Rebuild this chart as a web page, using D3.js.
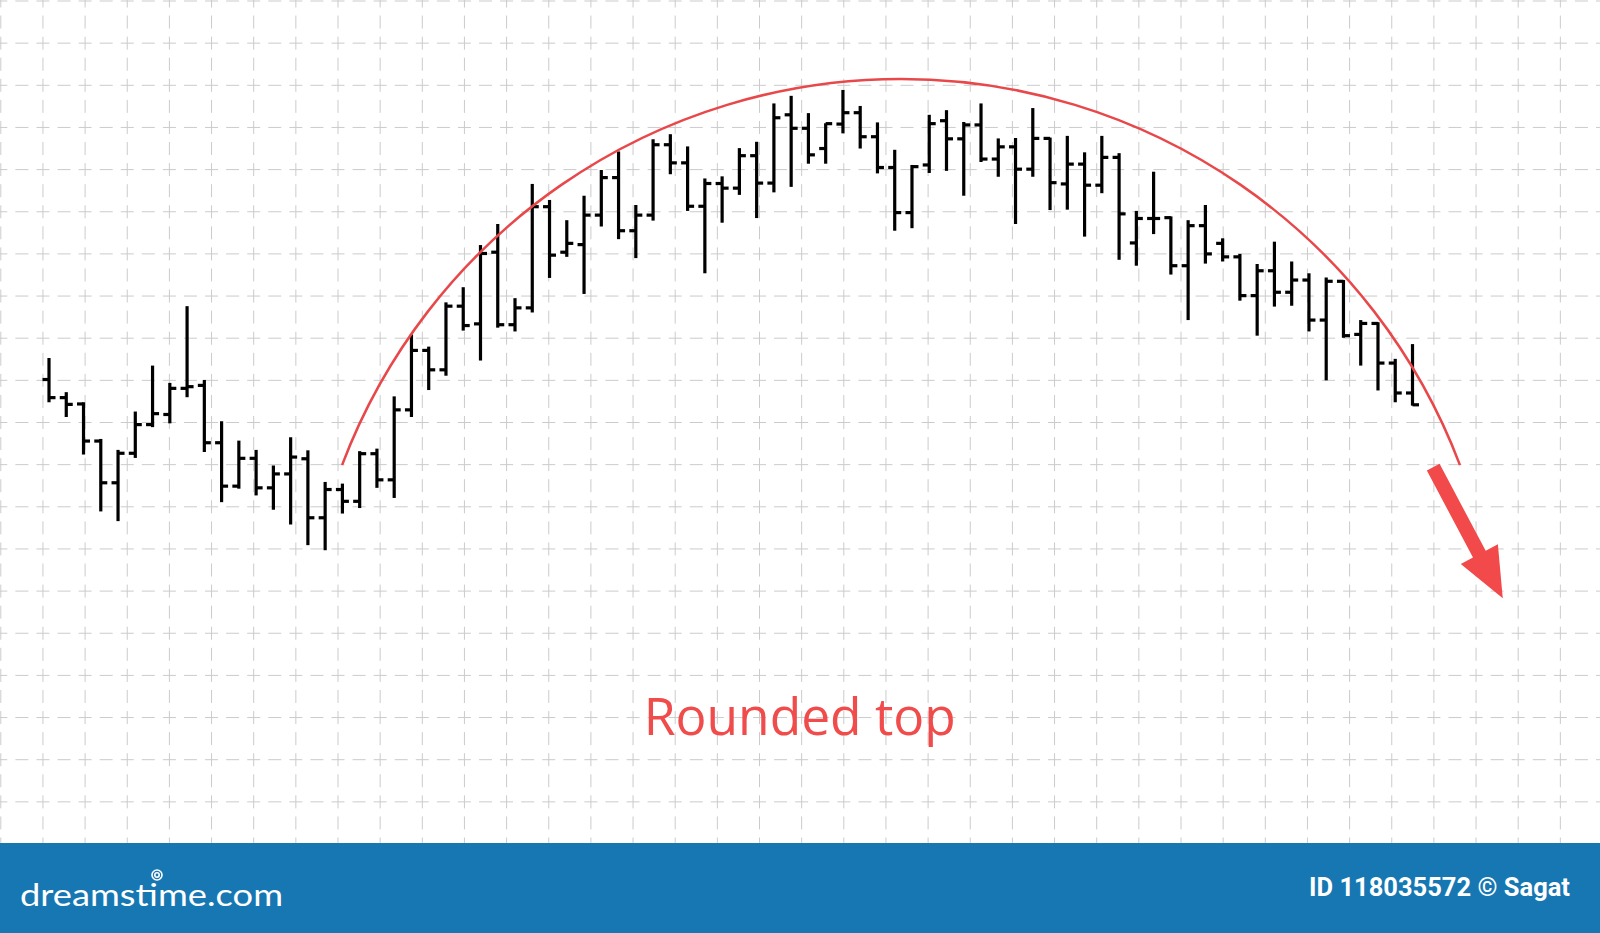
<!DOCTYPE html>
<html><head><meta charset="utf-8">
<script src="https://cdn.jsdelivr.net/npm/d3@7"></script>
<style>html,body{margin:0;padding:0;background:#fff;overflow:hidden}</style>
</head><body><svg id="c" width="1600" height="933"></svg>
<script>
// ---- data (price units: one grid cell = 10) ----
const opens = [110.2,105.9,104.4,95.6,85.7,92.7,99.5,101.9,108.1,108.8,
  95.2,84.9,91.5,84.5,87.8,91.4,77.4,84.1,81.3,92.6,
  86.4,103.0,117.1,112.5,127.6,123.4,140.4,123.2,127.2,151.2,
  140.4,142.2,149.2,158.1,145.5,149.2,165.9,161.6,151.3,156.7,
  155.6,163.3,156.8,173.0,169.8,165.0,170.8,173.5,167.8,160.5,
  149.8,161.1,171.6,167.3,170.6,162.5,165.4,160.1,167.4,156.6,
  161.3,156.3,162.9,142.6,148.4,148.6,137.2,146.7,142.5,139.3,
  130.1,136.0,130.9,133.8,124.3,133.5,120.9,123.5,114.1,107.0];
const highs = [115.3,107.2,104.8,96.1,93.5,102.6,113.5,109.4,127.6,110.1,
  100.3,95.7,93.5,89.8,96.5,93.4,85.9,85.5,93.2,93.8,
  106.2,120.9,118.0,128.5,132.1,142.1,147.1,129.5,156.6,152.8,
  148.0,153.8,159.9,164.3,151.6,167.2,168.4,165.5,157.9,158.4,
  165.1,166.6,175.7,177.5,173.4,171.0,178.9,175.1,171.2,164.7,
  161.1,173.0,174.1,171.3,175.7,167.4,167.5,174.6,167.6,168.0,
  164.1,168.0,163.9,150.2,159.5,148.9,148.0,151.6,143.7,140.0,
  137.6,142.9,138.2,135.4,134.4,133.8,124.3,123.8,115.1,118.6];
const lows = [104.8,101.3,92.4,78.9,76.6,91.6,98.9,99.8,106.0,93.0,
  81.1,84.3,82.7,79.3,75.8,70.9,69.7,78.4,79.7,84.5,
  82.1,101.3,107.7,111.1,121.8,114.7,122.5,121.6,126.1,134.3,
  139.3,130.5,146.5,143.5,139.0,147.9,158.9,150.2,135.4,147.4,
  154.0,148.5,154.6,155.9,161.4,161.4,168.6,165.0,159.1,145.5,
  146.1,159.2,159.7,153.8,161.8,158.3,147.1,158.3,150.4,150.5,
  144.1,154.4,138.6,137.2,144.7,135.1,124.3,137.7,138.2,128.9,
  120.6,127.5,127.7,121.6,110.0,120.1,113.5,107.6,104.8,104.0];
const closes = [105.9,104.3,95.6,85.7,92.7,99.5,102.1,108.1,108.5,95.2,
  84.9,91.5,84.5,87.8,91.8,77.4,84.1,81.3,92.6,86.4,
  103.0,117.1,112.5,127.6,123.0,140.1,123.2,127.2,151.2,139.7,
  142.5,149.2,158.1,145.5,149.2,165.9,161.6,151.3,156.7,155.6,
  163.3,156.8,172.3,169.8,163.5,170.9,173.5,167.8,160.5,149.8,
  160.7,170.9,167.3,170.6,162.5,165.4,160.1,167.4,156.9,161.3,
  156.3,162.9,149.5,148.4,148.4,137.2,146.7,140.0,139.3,130.1,
  136.0,130.9,133.8,124.3,133.5,120.6,123.5,114.1,107.0,104.2];
// annotation anchors in data space: [bar index, price]
const arcStart = [16.98, 89.9], arcTop = [49.36, 181.5], arcEnd = [81.75, 89.9];
const arrowFrom = [80.2, 89.4], arrowTo = [84.23, 58.3];
const labelText = "Rounded top", labelPos = [43.5, 25.9];
const brandText = "dreamstime.com";
const creditText = "ID 118035572 \u00A9 Sagat";

// ---- layout ----
const W = 1600, H = 933, footerTop = 843;
const svg = d3.select("#c");
const x = d3.scaleLinear().domain([0, opens.length - 1]).range([49, 1412.5]);
const y = d3.scaleLinear().domain([0, 200]).range([844, 1]);
const gridStepX = 42.15, gridX0 = 0.8;

svg.append("rect").attr("width", W).attr("height", H).attr("fill", "#fff");

// grid
const grid = svg.append("g").attr("stroke", "#cbcbcb").attr("stroke-width", 1)
  .attr("stroke-dasharray", "13 8.075").attr("fill", "none");
grid.selectAll("line.h").data(d3.range(0, 201, 10)).join("line")
  .attr("class", "h").attr("x1", 0).attr("x2", W)
  .attr("y1", d => y(d)).attr("y2", d => y(d))
  .attr("stroke-dashoffset", 5.7);
grid.selectAll("line.v").data(d3.range(0, 39)).join("line")
  .attr("class", "v").attr("y1", 0).attr("y2", footerTop)
  .attr("x1", d => gridX0 + d * gridStepX).attr("x2", d => gridX0 + d * gridStepX)
  .attr("stroke-dashoffset", 5.5);

// OHLC bars
const bars = opens.map((o, i) => ({i, o, h: highs[i], l: lows[i], c: closes[i]}));
const g = svg.append("g").attr("stroke", "#000").attr("stroke-width", 3.2);
const tick = 6.5;
const bg = g.selectAll("g").data(bars).join("g");
bg.append("line").attr("x1", d => x(d.i)).attr("x2", d => x(d.i))
  .attr("y1", d => y(d.h)).attr("y2", d => y(d.l));
bg.append("line").attr("x1", d => x(d.i) - tick).attr("x2", d => x(d.i))
  .attr("y1", d => y(d.o)).attr("y2", d => y(d.o));
bg.append("line").attr("x1", d => x(d.i)).attr("x2", d => x(d.i) + tick)
  .attr("y1", d => y(d.c)).attr("y2", d => y(d.c));

// arc through three anchors
const P = p => [x(p[0]), y(p[1])];
function circ(a, b, c) {
  const d = 2 * (a[0]*(b[1]-c[1]) + b[0]*(c[1]-a[1]) + c[0]*(a[1]-b[1]));
  const A = a[0]**2 + a[1]**2, B = b[0]**2 + b[1]**2, C = c[0]**2 + c[1]**2;
  const ux = (A*(b[1]-c[1]) + B*(c[1]-a[1]) + C*(a[1]-b[1])) / d;
  const uy = (A*(c[0]-b[0]) + B*(a[0]-c[0]) + C*(b[0]-a[0])) / d;
  return [ux, uy, Math.hypot(a[0]-ux, a[1]-uy)];
}
const a = P(arcStart), b = P(arcTop), c = P(arcEnd);
const [cx, cy, r] = circ(a, b, c);
const path = d3.path();
path.moveTo(a[0], a[1]);
path.arc(cx, cy, r, Math.atan2(a[1]-cy, a[0]-cx), Math.atan2(c[1]-cy, c[0]-cx), false);
svg.append("path").attr("d", path.toString()).attr("fill", "none")
  .attr("stroke", "#e8484a").attr("stroke-width", 2.5);

// arrow
const s = P(arrowFrom), t = P(arrowTo);
const len = Math.hypot(t[0]-s[0], t[1]-s[1]);
const u = [(t[0]-s[0])/len, (t[1]-s[1])/len], n = [-u[1], u[0]];
const sw = 7.2, hw = 21, hl = 50;
const bpt = [t[0]-u[0]*hl, t[1]-u[1]*hl];
const pts = [
  [s[0]+n[0]*sw, s[1]+n[1]*sw], [bpt[0]+n[0]*sw, bpt[1]+n[1]*sw],
  [bpt[0]+n[0]*hw, bpt[1]+n[1]*hw], t,
  [bpt[0]-n[0]*hw, bpt[1]-n[1]*hw], [bpt[0]-n[0]*sw, bpt[1]-n[1]*sw],
  [s[0]-n[0]*sw, s[1]-n[1]*sw]];
svg.append("path").attr("d", d3.line()(pts) + "Z").attr("fill", "#f24a4a");

// label
svg.append("text").attr("x", x(labelPos[0])).attr("y", y(labelPos[1]))
  .attr("text-anchor", "middle").attr("font-family", "'Open Sans', sans-serif")
  .attr("font-size", 51.5).attr("fill", "#f04c4c").text(labelText);

// footer
svg.append("rect").attr("x", 0).attr("y", footerTop).attr("width", W)
  .attr("height", H - footerTop).attr("fill", "#1677b2");
svg.append("text").attr("x", 20).attr("y", 906).attr("font-family", "Lato, sans-serif")
  .attr("font-size", 31).attr("fill", "#fff").attr("textLength", 263)
  .attr("lengthAdjust", "spacingAndGlyphs").text(brandText);
const sp = svg.append("g").attr("fill", "none").attr("stroke", "#fff").attr("stroke-width", 1.6);
sp.append("circle").attr("cx", 157).attr("cy", 875).attr("r", 5);
sp.append("circle").attr("cx", 157).attr("cy", 875).attr("r", 2.2);
svg.append("text").attr("x", 1570).attr("y", 896).attr("text-anchor", "end")
  .attr("font-family", "Roboto, sans-serif").attr("font-weight", 700)
  .attr("font-size", 25.5).attr("fill", "#fff").text(creditText);
</script></body></html>
